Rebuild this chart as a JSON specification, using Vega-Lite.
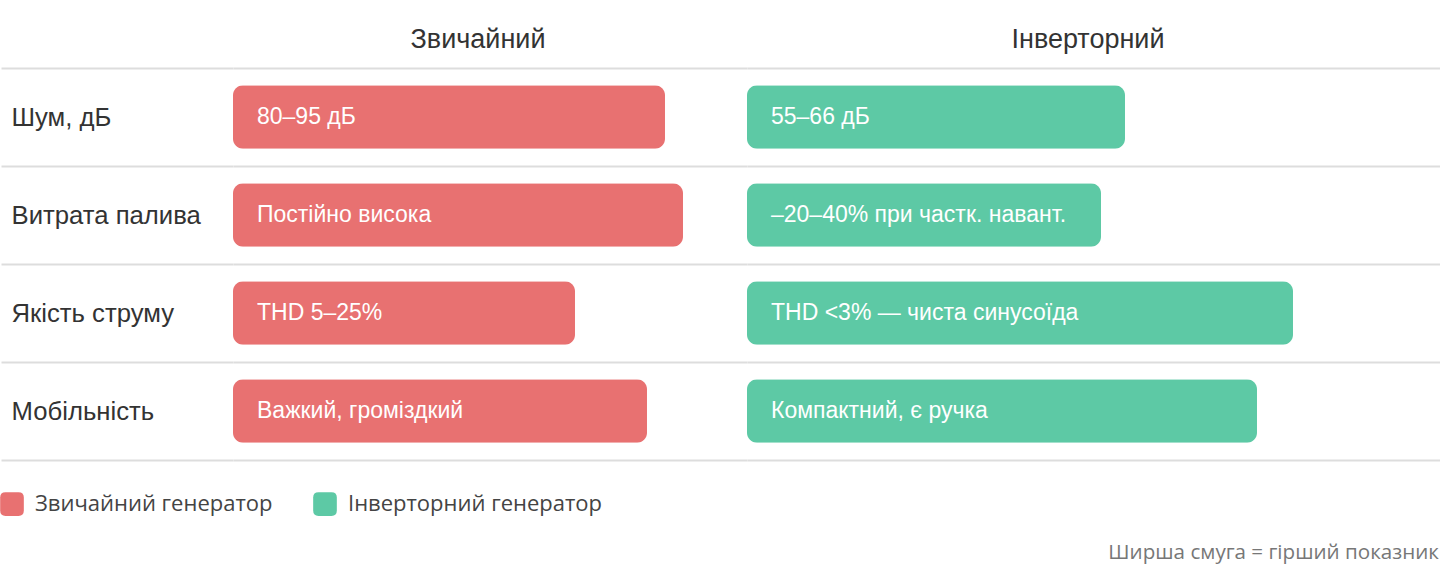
{
  "$schema": "https://vega.github.io/schema/vega-lite/v6.json",
  "description": "Звичайний vs інверторний генератор: ширша смуга = гірший показник.",
  "background": "white",
  "padding": {"top": 26, "left": 0, "right": 0, "bottom": 0},
  "bounds": "flush",
  "config": {
    "view": {"stroke": null},
    "font": "Liberation Sans",
    "concat": {"spacing": 0},
    "title": {"font": "Liberation Sans", "fontSize": 27, "fontWeight": "normal", "color": "#333333"}
  },
  "data": {
    "values": [
      {"metric": "Шум, дБ", "generator": "Звичайний генератор", "score": 72, "label": "80–95 дБ"},
      {"metric": "Витрата палива", "generator": "Звичайний генератор", "score": 75, "label": "Постійно висока"},
      {"metric": "Якість струму", "generator": "Звичайний генератор", "score": 57, "label": "THD 5–25%"},
      {"metric": "Мобільність", "generator": "Звичайний генератор", "score": 69, "label": "Важкий, громіздкий"},
      {"metric": "Шум, дБ", "generator": "Інверторний генератор", "score": 63, "label": "55–66 дБ"},
      {"metric": "Витрата палива", "generator": "Інверторний генератор", "score": 59, "label": "–20–40% при частк. навант."},
      {"metric": "Якість струму", "generator": "Інверторний генератор", "score": 91, "label": "THD <3% — чиста синусоїда"},
      {"metric": "Мобільність", "generator": "Інверторний генератор", "score": 85, "label": "Компактний, є ручка"}
    ]
  },
  "title": {
    "text": "Ширша смуга = гірший показник",
    "orient": "bottom",
    "anchor": "end",
    "font": "Open Sans",
    "fontSize": 20.6,
    "color": "#777777",
    "dx": -2,
    "offset": 27
  },
  "resolve": {"scale": {"x": "independent", "y": "shared", "color": "shared"}, "axis": {"y": "independent"}},
  "hconcat": [
    {
      "width": 514,
      "height": 392,
      "title": {"text": "Звичайний", "anchor": "middle", "dx": -12, "offset": 1},
      "transform": [{"filter": "datum.generator === 'Звичайний генератор'"}],
      "encoding": {
        "y": {
          "field": "metric",
          "type": "nominal",
          "sort": ["Шум, дБ", "Витрата палива", "Якість струму", "Мобільність"],
          "title": null,
          "scale": {"paddingInner": 0, "paddingOuter": 0},
          "axis": {
            "tickBand": "extent",
            "grid": true,
            "gridColor": "#dddddd",
            "gridWidth": 2,
            "ticks": true,
            "tickColor": "#dddddd",
            "tickWidth": 2,
            "tickSize": 232,
            "domain": false,
            "labelAlign": "left",
            "labelPadding": -10,
            "labelFont": "Liberation Sans",
            "labelFontSize": 25.7,
            "labelColor": "#333333",
            "labelLimit": 220
          }
        }
      },
      "layer": [
        {
          "mark": {"type": "bar", "cornerRadius": 10, "height": {"band": 0.65}},
          "encoding": {
            "x": {"field": "score", "type": "quantitative", "scale": {"domain": [0, 85.667], "nice": false}, "axis": null},
            "color": {
              "field": "generator",
              "type": "nominal",
              "scale": {"domain": ["Звичайний генератор", "Інверторний генератор"], "range": ["#e87171", "#5dc9a5"]},
              "legend": {
                "title": null,
                "orient": "none",
                "direction": "horizontal",
                "legendX": -233,
                "legendY": 424,
                "symbolType": "M -1 -0.55 Q -1 -1 -0.55 -1 L 0.55 -1 Q 1 -1 1 -0.55 L 1 0.55 Q 1 1 0.55 1 L -0.55 1 Q -1 1 -1 0.55 Z",
                "symbolSize": 560,
                "symbolStrokeWidth": 0,
                "symbolOpacity": 1,
                "labelFont": "Open Sans",
                "labelFontSize": 22,
                "labelColor": "#444444",
                "labelOffset": 11,
                "columnPadding": 40,
                "labelLimit": 400
              }
            }
          }
        },
        {
          "mark": {"type": "text", "align": "left", "dx": 24, "font": "Liberation Sans", "fontSize": 23, "color": "white"},
          "encoding": {
            "x": {"datum": 0, "type": "quantitative", "scale": {"domain": [0, 85.667], "nice": false}},
            "text": {"field": "label"}
          }
        }
      ]
    },
    {
      "width": 694,
      "height": 392,
      "title": {"text": "Інверторний", "anchor": "middle", "dx": -6, "offset": 14},
      "transform": [{"filter": "datum.generator === 'Інверторний генератор'"}],
      "encoding": {
        "y": {
          "field": "metric",
          "type": "nominal",
          "sort": ["Шум, дБ", "Витрата палива", "Якість струму", "Мобільність"],
          "title": null,
          "scale": {"paddingInner": 0, "paddingOuter": 0},
          "axis": {
            "tickBand": "extent",
            "grid": true,
            "gridColor": "#dddddd",
            "gridWidth": 2,
            "ticks": false,
            "labels": false,
            "domain": false,
            "minExtent": 0,
            "maxExtent": 0
          }
        }
      },
      "layer": [
        {
          "mark": {"type": "bar", "cornerRadius": 10, "height": {"band": 0.65}},
          "encoding": {
            "x": {"field": "score", "type": "quantitative", "scale": {"domain": [0, 115.667], "nice": false}, "axis": null},
            "color": {"field": "generator", "type": "nominal"}
          }
        },
        {
          "mark": {"type": "text", "align": "left", "dx": 24, "font": "Liberation Sans", "fontSize": 23, "color": "white"},
          "encoding": {
            "x": {"datum": 0, "type": "quantitative", "scale": {"domain": [0, 115.667], "nice": false}},
            "text": {"field": "label"}
          }
        }
      ]
    }
  ]
}
